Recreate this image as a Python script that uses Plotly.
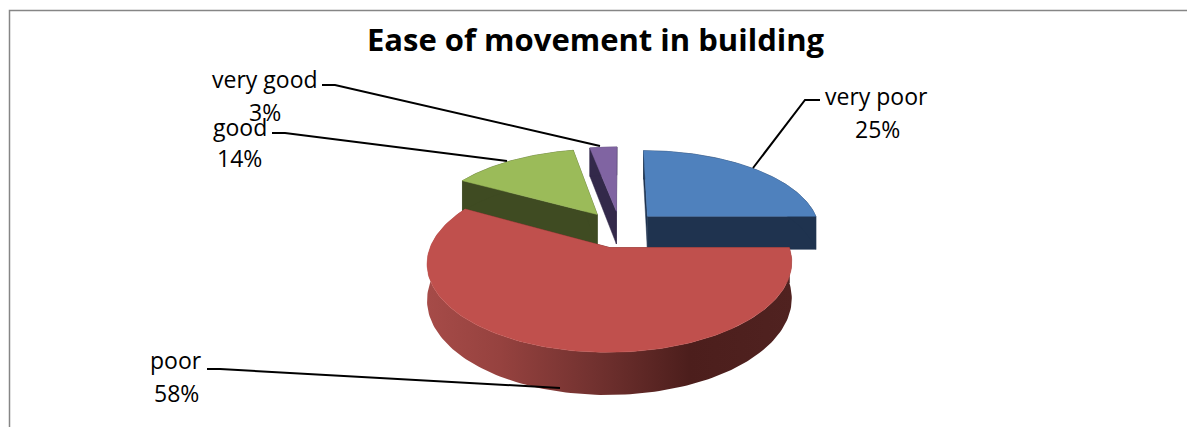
import numpy as np
import plotly.graph_objects as go

categories = ["very poor", "poor", "good", "very good"]
values = [25, 58, 14, 3]
title = "Ease of movement in building"

W, H = 1187, 427
CX, CY, A, B, K, E, D = 620, 229, 173, 80.4, 0.166, 0.23, 34
FONT = "Open Sans"

top_colors = ["#4F81BD", "#C0504D", "#9BBB59", "#8064A2"]
wall_colors = ["#1F334F", "#4E201E", "#3F4B22", "#33294A"]


def project(X, Y):
    p = 1 / (1 - K * Y)
    return CX + A * X * p, CY + B * Y * p, D * p


def ground(t, r, mid):
    # t, mid: radians clockwise from the top of the pie
    ox, oy = E * np.sin(mid), -E * np.cos(mid)
    return ox + r * np.sin(t), oy - r * np.cos(t)


def poly(xs, ys, color, **kw):
    args = dict(x=xs, y=ys, mode="lines", fill="toself", fillcolor=color,
                line=dict(color=color, width=0.5), hoverinfo="skip", showlegend=False)
    args.update(kw)
    return go.Scatter(**args)


fig = go.Figure()
total = sum(values)
edges = np.cumsum([0] + values) / total * 2 * np.pi
slices = []
for i in range(len(values)):
    a0, a1 = edges[i], edges[i + 1]
    slices.append((i, a0, a1, (a0 + a1) / 2))

for i, a0, a1, mid in [slices[3], slices[2], slices[0], slices[1]]:
    ts = np.linspace(a0, a1, 160)
    rx, ry, rd = project(*ground(ts, 1, mid))
    ax, ay, ad = project(*ground(0.0, 0, mid))
    wall = wall_colors[i]
    # radial cut faces
    for k in (0, -1):
        fig.add_trace(poly([ax, rx[k], rx[k], ax, ax],
                           [ay, ry[k], ry[k] + rd[k], ay + ad, ay], wall))
    # outer rim wall
    if i == 1:
        grad = dict(type="horizontal", colorscale=[
            [0.0, "#A64B48"], [0.2, "#96423F"], [0.45, "#733230"],
            [0.72, "#4C1E1C"], [1.0, "#502220"]])
        fig.add_trace(poly(np.r_[rx, rx[::-1], rx[0]], np.r_[ry, (ry + rd)[::-1], ry[0]],
                           wall, fillgradient=grad, line=dict(width=0, color=wall)))
    else:
        fig.add_trace(poly(np.r_[rx, rx[::-1], rx[0]], np.r_[ry, (ry + rd)[::-1], ry[0]], wall))
    # top face
    fig.add_trace(poly(np.r_[ax, rx, ax], np.r_[ay, ry, ay], top_colors[i]))

leaders = {
    "very poor": ([820, 805, 753], [100, 100, 168]),
    "poor": ([207, 220, 560], [369, 369, 388]),
    "good": ([272, 285, 507], [133, 133, 161]),
    "very good": ([322, 335, 600], [85, 85, 146]),
}
for c in categories:
    fig.add_trace(go.Scatter(x=leaders[c][0], y=leaders[c][1], mode="lines",
                             line=dict(color="#000000", width=2),
                             hoverinfo="skip", showlegend=False))

# frame
fig.add_trace(go.Scatter(x=[9.5, 9.5, 1187], y=[427, 10.5, 10.5], mode="lines",
                         line=dict(color="#868686", width=1.5), hoverinfo="skip", showlegend=False))

label_pos = {
    "very poor": ((876, 96), (877, 129)),
    "poor": ((176, 360), (176, 393)),
    "good": ((240, 127), (239, 158)),
    "very good": ((265, 79), (265, 112)),
}
annotations = [dict(x=596, y=39, text=f"<b>{title}</b>", showarrow=False, xref="x", yref="y",
                    font=dict(family=FONT, size=31, color="#000000"))]
for c, v in zip(categories, values):
    (x1, y1), (x2, y2) = label_pos[c]
    annotations.append(dict(x=x1, y=y1, text=c, showarrow=False, xref="x", yref="y",
                            font=dict(family=FONT, size=23, color="#000000")))
    annotations.append(dict(x=x2, y=y2, text=f"{v}%", showarrow=False, xref="x", yref="y",
                            font=dict(family=FONT, size=23, color="#000000")))

fig.update_layout(
    width=W, height=H, margin=dict(l=0, r=0, t=0, b=0),
    paper_bgcolor="#FFFFFF", plot_bgcolor="#FFFFFF", annotations=annotations,
    xaxis=dict(range=[0, W], visible=False, fixedrange=True),
    yaxis=dict(range=[H, 0], visible=False, fixedrange=True),
)
fig.write_html("out.html", config={"displayModeBar": False},
               post_script="document.body.style.margin='0';document.body.style.overflow='hidden';")
